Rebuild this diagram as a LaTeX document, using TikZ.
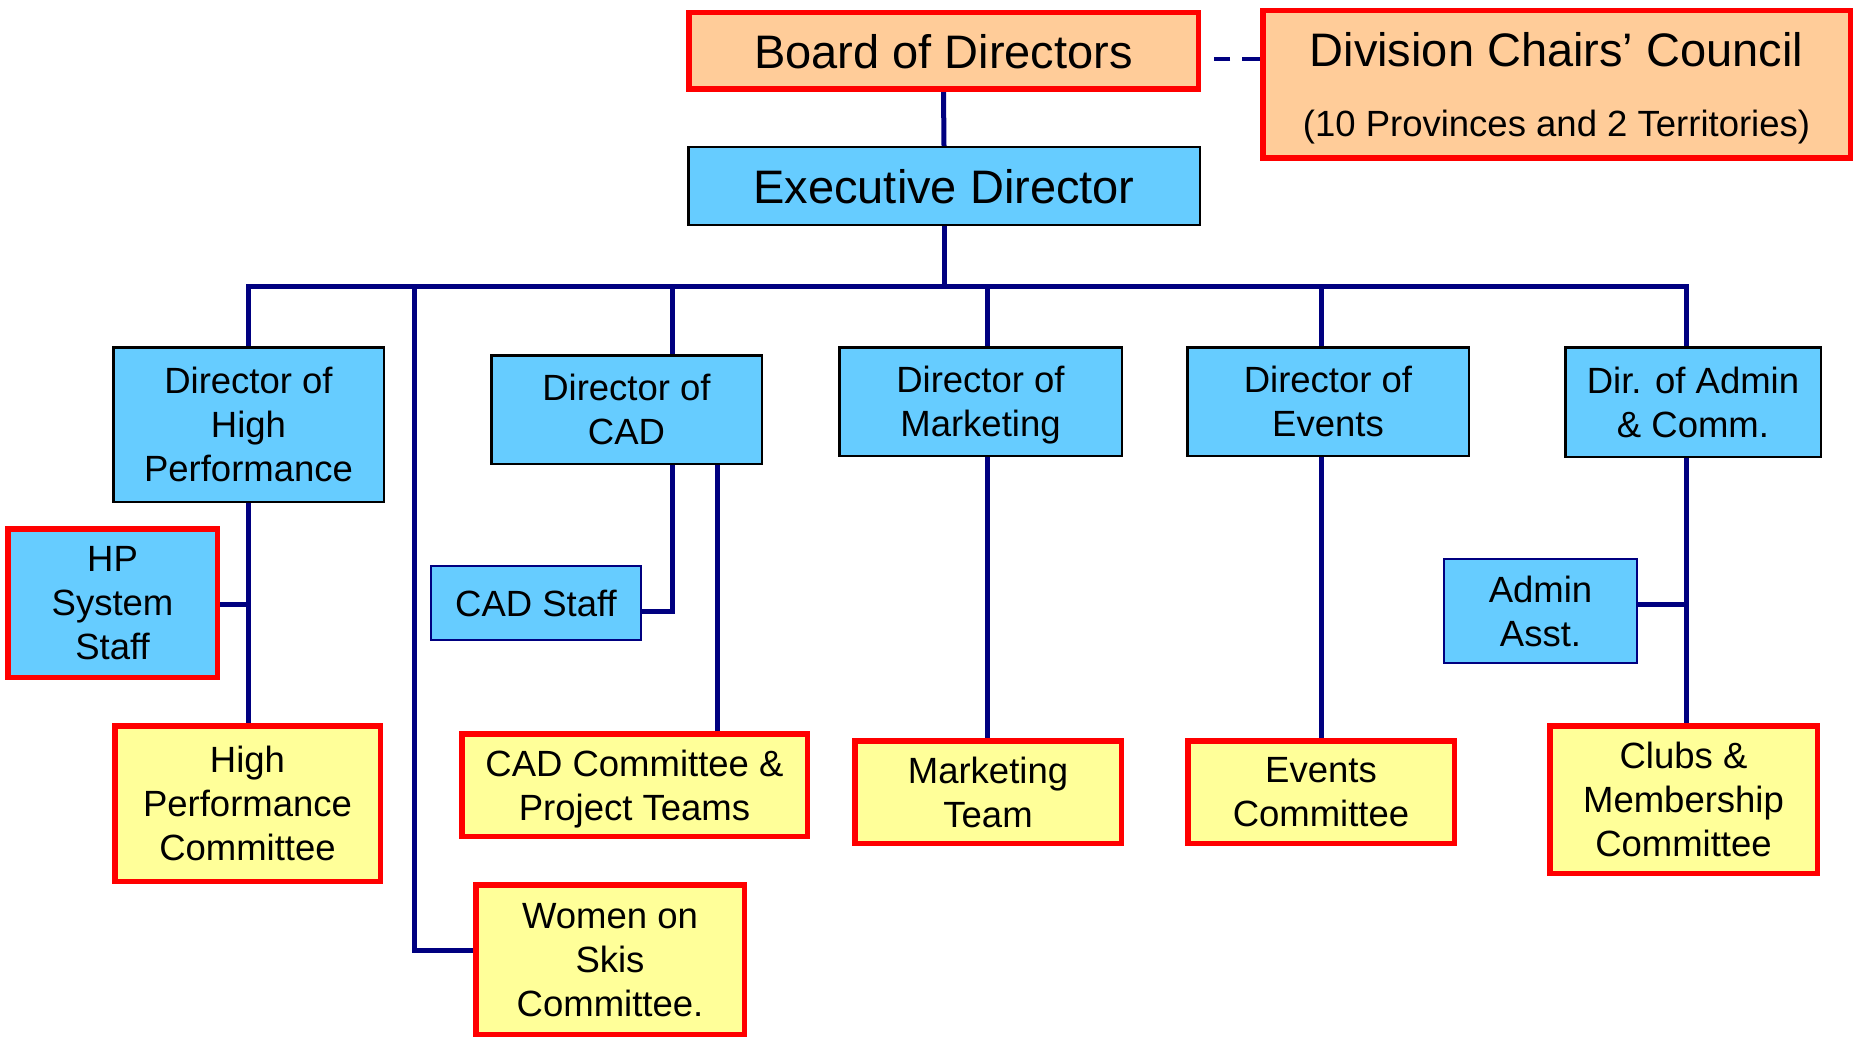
\documentclass[tikz,border=0pt]{standalone}
\usepackage{fontspec}
\setmainfont{Liberation Sans}
\usetikzlibrary{calc}
\pgfdeclarelayer{bg}
\pgfsetlayers{bg,main}
\definecolor{boxblue}{HTML}{66CCFF}
\definecolor{peach}{HTML}{FFCC99}
\definecolor{paleyellow}{HTML}{FFFF99}
\definecolor{navy}{HTML}{000080}
\definecolor{boxred}{HTML}{FF0000}
\begin{document}
\begin{tikzpicture}[x=1pt,y=-1pt,
  box/.style={rectangle, inner sep=0pt, align=center, text depth=0pt, font=\fontsize{36.5}{44}\selectfont},
  lowtext/.style={text depth=-5pt},
  bigtext/.style={font=\fontsize{47}{56}\selectfont},
  smalltext/.style={font=\fontsize{36.5}{44}\selectfont},
  redbox/.style={box, draw=boxred, line width=5.5pt},
  dirbox/.style={box, draw=black, line width=2.5pt, fill=boxblue},
  staffbox/.style={box, draw=navy, line width=2pt, fill=boxblue},
  conn/.style={draw=navy, line width=5pt, line join=miter},
  dashline/.style={draw=navy, line width=4pt, dash pattern=on 18pt off 12pt on 16pt off 40pt}
]
\useasboundingbox (0,0) rectangle (1856,1038);

% top level
\node[redbox, fill=peach, bigtext, minimum width=509.5pt, minimum height=76.5pt] (board) at (943.5,51) {Board of Directors};
\node[redbox, fill=peach, minimum width=587.5pt, minimum height=147.5pt] (div) at (1556.5,84.5) {};
\node[bigtext, anchor=base, inner sep=0pt] (divt1) at (1556.5,67) {Division Chairs’ Council};
\node[smalltext, anchor=base, inner sep=0pt] (divt2) at (1556.5,137) {(10 Provinces and 2 Territories)};
\node[dirbox, bigtext, minimum width=511.5pt, minimum height=77.5pt] (exec) at (944,186) {Executive Director};

% directors
\node[dirbox, minimum width=270.5pt, minimum height=154.5pt] (dirhp) at (248.5,424.5) {Director of\\High\\Performance};
\node[dirbox, minimum width=270.5pt, minimum height=108.5pt] (dircad) at (626.5,409.5) {Director of\\CAD};
\node[dirbox, minimum width=282.5pt, minimum height=108.5pt] (dirmkt) at (980.5,401.5) {Director of\\Marketing};
\node[dirbox, minimum width=281.5pt, minimum height=108.5pt] (direv) at (1328,401.5) {Director of\\Events};
\node[dirbox, minimum width=255.5pt, minimum height=109.5pt] (diradmin) at (1693,402) {Dir. of Admin\\\& Comm.};

% staff
\node[redbox, lowtext, fill=boxblue, minimum width=209.5pt, minimum height=148.5pt] (hpsys) at (112.5,603) {HP\\System\\Staff};
\node[staffbox, minimum width=210pt, minimum height=74pt] (cadstaff) at (536,603) {CAD Staff};
\node[staffbox, lowtext, minimum width=193pt, minimum height=104pt] (adminasst) at (1540.5,611) {Admin\\Asst.};

% committees
\node[redbox, fill=paleyellow, minimum width=265.5pt, minimum height=155.5pt] (hpcomm) at (247.5,803.5) {High\\Performance\\Committee};
\node[redbox, lowtext, fill=paleyellow, minimum width=345.5pt, minimum height=102.5pt] (cadcomm) at (634.5,785) {CAD Committee \&\\Project Teams};
\node[redbox, lowtext, fill=paleyellow, minimum width=268.5pt, minimum height=149.5pt] (wos) at (610,959.5) {Women on\\Skis\\Committee.};
\node[redbox, lowtext, fill=paleyellow, minimum width=266.5pt, minimum height=102.5pt] (mkt) at (988,792) {Marketing\\Team};
\node[redbox, lowtext, fill=paleyellow, minimum width=266.5pt, minimum height=102.5pt] (evcomm) at (1321,792) {Events\\Committee};
\node[redbox, lowtext, fill=paleyellow, minimum width=267.5pt, minimum height=147.5pt] (clubs) at (1683.5,799.5) {Clubs \&\\Membership\\Committee};

% helper coordinates
\coordinate (busL) at (248,286);
\coordinate (busR) at (1686,286);
\coordinate (xwos) at (414,0);
\coordinate (xcad) at (672,0);
\coordinate (xcadc) at (717,0);
\coordinate (xmkt) at (987,0);
\coordinate (xev) at (1321,0);
\coordinate (hpy) at (0,604);
\coordinate (cady) at (0,611);
\coordinate (admy) at (0,604);
\coordinate (wosy) at (0,950);
\coordinate (dashy) at (0,59);

\begin{pgfonlayer}{bg}
\fill[white] (0,0) rectangle (1856,1038);
\draw[conn] (board.south) -- (exec.north);
\draw[conn] (exec.south) -- (exec.south |- busL);
\draw[conn] (dirhp.north) -- (dirhp.north |- busL) -- (busR) -- (busR |- diradmin.north);
\draw[conn] (xcad |- busL) -- (xcad |- dircad.north);
\draw[conn] (xmkt |- busL) -- (xmkt |- dirmkt.north);
\draw[conn] (xev |- busL) -- (xev |- direv.north);
\draw[conn] (xwos |- busL) |- (wos.west |- wosy);
\draw[conn] (dirhp.south) -- (dirhp.south |- hpcomm.north);
\draw[conn] (hpsys.east |- hpy) -- (dirhp.south |- hpy);
\draw[conn] (xcad |- dircad.south) |- (cadstaff.east |- cady);
\draw[conn] (xcadc |- dircad.south) -- (xcadc |- cadcomm.north);
\draw[conn] (xmkt |- dirmkt.south) -- (xmkt |- mkt.north);
\draw[conn] (xev |- direv.south) -- (xev |- evcomm.north);
\draw[conn] (busR |- diradmin.south) -- (busR |- clubs.north);
\draw[conn] (adminasst.east |- admy) -- (busR |- admy);
\draw[dashline] (div.west |- dashy) -- (board.east |- dashy);
\end{pgfonlayer}
\end{tikzpicture}
\end{document}
